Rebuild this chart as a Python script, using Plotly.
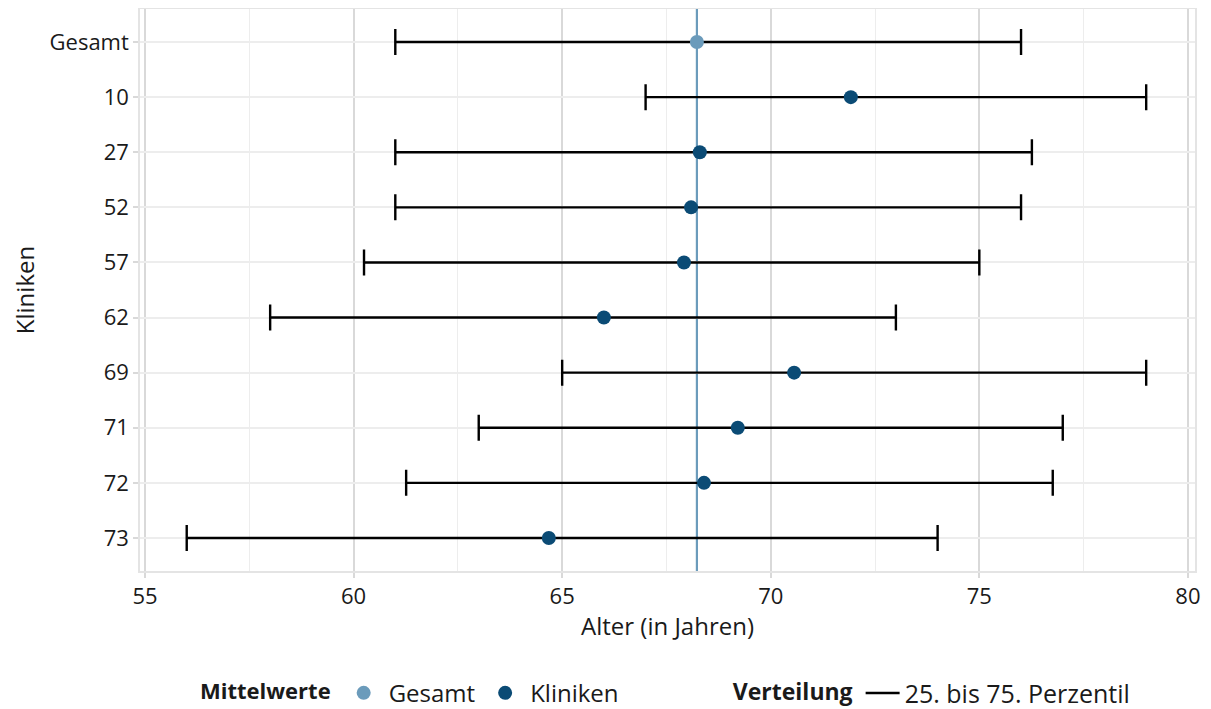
import plotly.graph_objects as go

categories = ["Gesamt", "10", "27", "52", "57", "62", "69", "71", "72", "73"]
means = [68.23, 71.92, 68.30, 68.09, 67.92, 66.00, 70.56, 69.21, 68.40, 64.68]
p25 = [61.0, 67.0, 61.0, 61.0, 60.25, 58.0, 65.0, 63.0, 61.26, 56.0]
p75 = [76.0, 79.0, 76.26, 76.0, 75.0, 73.0, 79.0, 77.0, 76.76, 74.0]
x_ticks = [55, 60, 65, 70, 75, 80]

c_gesamt = "#6b9bbb"
c_klin = "#0b4b75"
FONT = "Open Sans"

fig = go.Figure()

def add_points(idx, name, color):
    fig.add_trace(go.Scatter(
        x=[means[i] for i in idx],
        y=[categories[i] for i in idx],
        mode="markers",
        name=name,
        legend="legend",
        marker=dict(color=color, size=14),
        error_x=dict(
            type="data", symmetric=False,
            array=[p75[i] - means[i] for i in idx],
            arrayminus=[means[i] - p25[i] for i in idx],
            color="black", thickness=2.4, width=13,
        ),
    ))

add_points([0], "Gesamt", c_gesamt)
add_points(list(range(1, len(categories))), "Kliniken", c_klin)

fig.add_trace(go.Scatter(
    x=[None], y=[None], mode="lines", name="25. bis 75. Perzentil",
    legend="legend2", line=dict(color="black", width=2.6),
))

fig.add_shape(type="line", xref="x", yref="paper", x0=means[0], x1=means[0],
              y0=0, y1=1, line=dict(color=c_gesamt, width=2.2), layer="below")

# page body has an 8px default margin, so the figure is 8px smaller
fig.update_layout(
    width=1203, height=701,
    margin=dict(l=132, r=16, t=1, b=138, autoexpand=False),
    paper_bgcolor="white", plot_bgcolor="white",
    font=dict(family=FONT, size=22, color="#1a1a1a"),
    xaxis=dict(
        range=[54.88, 80.17], tickvals=x_ticks, automargin=False,
        showgrid=True, gridcolor="#d9d9d9", gridwidth=2,
        minor=dict(dtick=2.5, tick0=55, showgrid=True, gridcolor="#ededed", gridwidth=1.2),
        showline=True, mirror=True, linecolor="#e4e4e4", linewidth=1.5,
        ticks="outside", ticklen=5, tickwidth=2, tickcolor="#d9d9d9",
        zeroline=False,
        title=dict(text="Alter (in Jahren)", font=dict(size=24), standoff=9),
        tickfont=dict(size=22),
    ),
    yaxis=dict(
        type="category", categoryorder="array", categoryarray=categories,
        range=[len(categories) - 0.4, -0.6], automargin=False,
        showgrid=True, gridcolor="#ededed", gridwidth=1.5,
        showline=True, mirror=True, linecolor="#e4e4e4", linewidth=1.5,
        ticks="outside", ticklen=5, tickwidth=2, tickcolor="#d9d9d9",
        zeroline=False,
        title=dict(text="Kliniken", font=dict(size=24), standoff=15),
        tickfont=dict(size=22),
    ),
    legend=dict(
        orientation="h", x=0.055, xanchor="left", y=-0.2175, yanchor="middle",
        title=dict(text="<b>Mittelwerte</b>", side="left", font=dict(size=22)),
        font=dict(size=24), bgcolor="rgba(0,0,0,0)", itemwidth=40,
    ),
    legend2=dict(
        orientation="h", x=0.560, xanchor="left", y=-0.2175, yanchor="middle",
        title=dict(text="<b>Verteilung</b>", side="left", font=dict(size=23)),
        font=dict(size=25), bgcolor="rgba(0,0,0,0)", itemwidth=34,
    ),
)

fig.write_html("out.html")
